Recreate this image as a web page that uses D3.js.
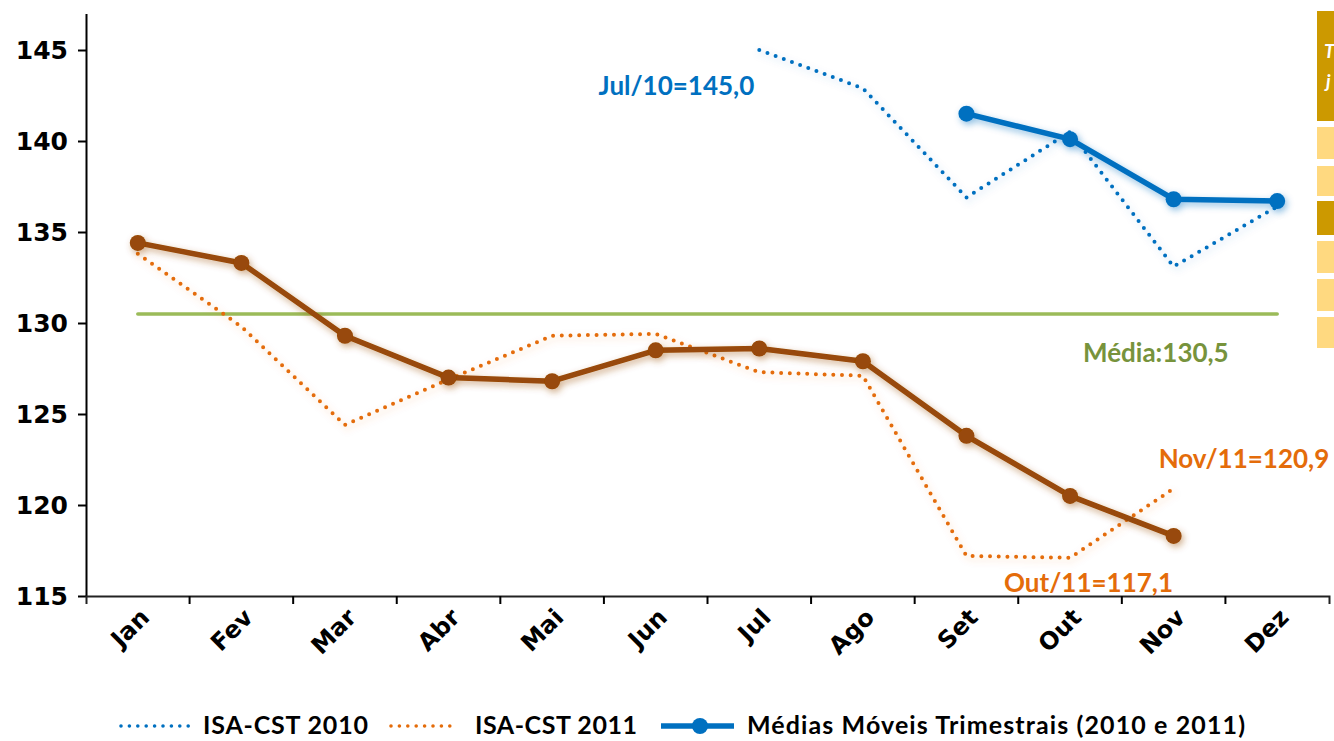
<!DOCTYPE html>
<html><head><meta charset="utf-8">
<script src="https://cdn.jsdelivr.net/npm/d3@7"></script>
<style>
body{margin:0;background:#fff;}
svg{display:block;}
</style></head><body>
<script>
// ---- data ----
const months = ["Jan","Fev","Mar","Abr","Mai","Jun","Jul","Ago","Set","Out","Nov","Dez"];
const yTicks = [115,120,125,130,135,140,145];
const isa2010Months = ["Jul","Ago","Set","Out","Nov","Dez"];
const isa2010 = [145.0,142.9,136.9,140.5,133.1,136.4];
const isa2011Months = ["Jan","Fev","Mar","Abr","Mai","Jun","Jul","Ago","Set","Out","Nov"];
const isa2011 = [133.8,129.8,124.4,126.9,129.3,129.4,127.3,127.1,117.2,117.1,120.9];
const mm2010Months = ["Set","Out","Nov","Dez"];
const mm2010 = [141.5,140.1,136.8,136.7];
const mm2011Months = ["Jan","Fev","Mar","Abr","Mai","Jun","Jul","Ago","Set","Out","Nov"];
const mm2011 = [134.4,133.3,129.3,127.0,126.8,128.5,128.6,127.9,123.8,120.5,118.3];
const mediaValue = 130.5;
const legendLabels = ["ISA-CST 2010","ISA-CST 2011","Médias Móveis Trimestrais (2010 e 2011)"];

// ---- styles ----
const C_BLUE = "#0070C0", C_ORANGE = "#E46C0A", C_BROWN = "#984807", C_GREEN = "#9BBB59", C_GREEN_T = "#77933C";
const TICK_FONT = "'DejaVu Sans', Verdana, sans-serif";
const TXT_FONT = "Lato, 'Open Sans', sans-serif";

const W = 1334, H = 741;
const svg = d3.select("body").append("svg").attr("width", W).attr("height", H);

const defs = svg.append("defs");
function shadow(id, color, op, sd) {
  const f = defs.append("filter").attr("id", id).attr("filterUnits", "userSpaceOnUse")
    .attr("x", 0).attr("y", 0).attr("width", W).attr("height", H);
  f.append("feDropShadow").attr("dx", 2).attr("dy", 3).attr("stdDeviation", sd)
    .attr("flood-color", color).attr("flood-opacity", op);
}
shadow("shBlue", C_BLUE, 0.45, 3.5);
shadow("shBrown", C_BROWN, 0.45, 3.5);
shadow("shOrange", C_ORANGE, 0.3, 3.5);
shadow("shBlueDot", C_BLUE, 0.25, 3.5);

// ---- scales ----
const x = d3.scaleBand().domain(months).range([86, 1329]).padding(0);
const xc = m => x(m) + x.bandwidth() / 2;
const y = d3.scaleLinear().domain([115, 147]).range([596, 596 - 32 * 18.2]);

// ---- right decorative (cropped table) ----
const boxes = [[11,121,"#CC9900"],[127,159,"#FFD980"],[166,196,"#FFD980"],[201,235,"#CC9900"],[241,273,"#FFD980"],[279,311,"#FFD980"],[317,348,"#FFD980"]];
svg.append("g").selectAll("rect").data(boxes).join("rect")
  .attr("x", 1317).attr("width", 20).attr("y", d => d[0]).attr("height", d => d[1] - d[0]).attr("fill", d => d[2]);
svg.append("text").attr("x", 1324).attr("y", 58).text("T").attr("fill", "#fff")
  .attr("font-family", TXT_FONT).attr("font-style", "italic").attr("font-weight", 700).attr("font-size", 19);
svg.append("text").attr("x", 1326).attr("y", 88).text("j").attr("fill", "#fff")
  .attr("font-family", TXT_FONT).attr("font-style", "italic").attr("font-weight", 700).attr("font-size", 19);

// ---- axes ----
const gY = svg.append("g").attr("transform", "translate(86,0)")
  .call(d3.axisLeft(y).tickValues(yTicks).tickSize(8).tickSizeOuter(0).tickPadding(10));
gY.select(".domain").attr("stroke", "#000").attr("stroke-width", 2);
gY.selectAll(".tick line").attr("stroke", "#000").attr("stroke-width", 2);
gY.selectAll(".tick text").attr("font-family", TICK_FONT).attr("font-weight", "bold")
  .attr("font-size", 25).attr("fill", "#000");

const gX = svg.append("g").attr("transform", "translate(0,596)")
  .call(d3.axisBottom(x).tickSizeInner(0).tickSizeOuter(8).tickPadding(0));
gX.select(".domain").attr("stroke", "#222").attr("stroke-width", 2);
gX.selectAll(".tick text")
  .attr("x", 0).attr("y", 0).attr("dy", "0.35em").attr("text-anchor", "end")
  .attr("transform", "translate(7,17) rotate(-45)")
  .attr("font-family", TICK_FONT).attr("font-weight", "bold").attr("font-size", 24).attr("fill", "#000");
gX.append("g").selectAll("line").data(months.slice(1)).join("line")
  .attr("x1", d => x(d)).attr("x2", d => x(d)).attr("y1", 0).attr("y2", 8)
  .attr("stroke", "#000").attr("stroke-width", 2);

// ---- series ----
const line = d3.line().x(d => xc(d.m)).y(d => y(d.v));
const zip = (ms, vs) => ms.map((m, i) => ({ m, v: vs[i] }));

// mean line
svg.append("line").attr("x1", xc("Jan")).attr("x2", xc("Dez"))
  .attr("y1", y(mediaValue)).attr("y2", y(mediaValue))
  .attr("stroke", C_GREEN).attr("stroke-width", 3.5).attr("stroke-linecap", "round");

// dotted series
function dotted(data, color, filt) {
  svg.append("path").datum(data).attr("d", line).attr("fill", "none")
    .attr("stroke", color).attr("stroke-width", 4).attr("stroke-linecap", "round")
    .attr("stroke-linejoin", "round").attr("stroke-dasharray", "0 8.7")
    .attr("filter", `url(#${filt})`);
}
dotted(zip(isa2010Months, isa2010), C_BLUE, "shBlueDot");
dotted(zip(isa2011Months, isa2011), C_ORANGE, "shOrange");

// moving averages
function ma(data, color, filt) {
  const g = svg.append("g").attr("filter", `url(#${filt})`);
  g.append("path").datum(data).attr("d", line).attr("fill", "none")
    .attr("stroke", color).attr("stroke-width", 5.5).attr("stroke-linejoin", "round");
  g.selectAll("circle").data(data).join("circle")
    .attr("cx", d => xc(d.m)).attr("cy", d => y(d.v)).attr("r", 8).attr("fill", color);
}
ma(zip(mm2011Months, mm2011), C_BROWN, "shBrown");
ma(zip(mm2010Months, mm2010), C_BLUE, "shBlue");

// ---- annotations ----
function label(txt, xx, yy, color, anchor) {
  svg.append("text").attr("x", xx).attr("y", yy).text(txt).attr("fill", color)
    .attr("text-anchor", anchor || "start")
    .attr("font-family", TXT_FONT).attr("font-weight", 700).attr("font-size", 26);
}
label("Jul/10=145,0", xc("Jul") - 5, y(145.0) + 45, C_BLUE, "end");
label("Nov/11=120,9", xc("Nov") - 15, y(120.9) - 21, C_ORANGE);
label("Out/11=117,1", xc("Out") - 66, y(117.1) + 34, C_ORANGE);
label("Média:130,5", 1083, y(mediaValue) + 48, C_GREEN_T);

// ---- legend ----
const lg = svg.append("g");
const LY = 726;
lg.append("line").attr("x1", 121).attr("x2", 196).attr("y1", LY).attr("y2", LY)
  .attr("stroke", C_BLUE).attr("stroke-width", 3.6).attr("stroke-linecap", "round").attr("stroke-dasharray", "0 8.4");
lg.append("line").attr("x1", 391).attr("x2", 458).attr("y1", LY).attr("y2", LY)
  .attr("stroke", C_ORANGE).attr("stroke-width", 3.6).attr("stroke-linecap", "round").attr("stroke-dasharray", "0 8.4");
lg.append("line").attr("x1", 661).attr("x2", 734).attr("y1", LY).attr("y2", LY)
  .attr("stroke", C_BLUE).attr("stroke-width", 5.5);
lg.append("circle").attr("cx", 700).attr("cy", LY).attr("r", 8).attr("fill", C_BLUE);
const lx = [203, 475, 747];
const lw = [165, 162, 498];
lg.selectAll("text").data(legendLabels).join("text")
  .attr("x", (d, i) => lx[i]).attr("y", LY + 8).text(d => d)
  .attr("textLength", (d, i) => lw[i]).attr("lengthAdjust", "spacing")
  .attr("font-family", TXT_FONT).attr("font-weight", 700).attr("font-size", 25).attr("fill", "#000");
</script>
</body></html>
